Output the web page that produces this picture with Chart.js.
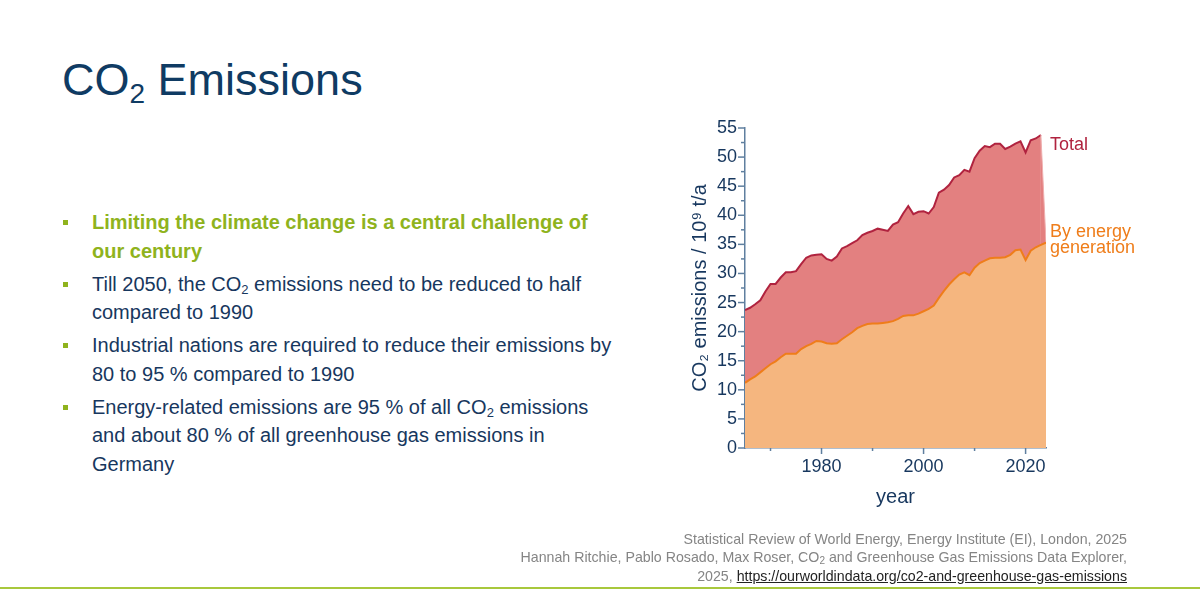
<!DOCTYPE html>
<html>
<head>
<meta charset="utf-8">
<script src="https://cdn.jsdelivr.net/npm/chart.js@4.4.1/dist/chart.umd.min.js"></script>
<style>
  html, body { margin: 0; padding: 0; background: #fff; }
  body { width: 1200px; height: 600px; position: relative; overflow: hidden;
         font-family: Arial, "Liberation Sans", sans-serif; color: #17375E; }
  #title { position: absolute; left: 62px; top: 57px; font-size: 45px; line-height: 45px; color: #0F3B63; white-space: nowrap; }
  #title .sub { font-size: 28px; position: relative; top: 8px; }
  #bullets { position: absolute; left: 92px; top: 208px; font-size: 20px; line-height: 28.5px; white-space: nowrap; }
  #bullets p { margin: 0 0 4.5px 0; position: relative; }
  #bullets p::before { content: ""; position: absolute; left: -29px; top: 12px; width: 5px; height: 5px; background: #8FB31D; }
  #bullets p.lead { color: #8FB31D; font-weight: bold; }
  #bullets sub { font-size: 13px; vertical-align: -3px; line-height: 0; }
  #chartBox { position: absolute; left: 620px; top: 100px; width: 580px; height: 440px; }
  .seriesLabel { position: absolute; left: 1050px; font-size: 18px; white-space: nowrap; }
  #lblTotal { top: 135px; line-height: 18px; color: #B0233F; }
  #lblEnergy { top: 223px; line-height: 16px; color: #EF7D1A; }
  #source { position: absolute; right: 73px; top: 530px; text-align: right; font-size: 14.2px; line-height: 18.3px; color: #858585; white-space: nowrap; }
  #source sub { font-size: 10px; vertical-align: -2px; line-height: 0; }
  #source a { color: #222; text-decoration: underline; }
  #rule { position: absolute; left: 0; top: 587px; width: 1200px; height: 2px; background: #A8C83C; }
</style>
</head>
<body>
<div id="title">CO<span class="sub">2</span> Emissions</div>

<div id="bullets">
  <p class="lead">Limiting the climate change is a central challenge of<br>our century</p>
  <p>Till 2050, the CO<sub>2</sub> emissions need to be reduced to half<br>compared to 1990</p>
  <p>Industrial nations are required to reduce their emissions by<br>80 to 95 % compared to 1990</p>
  <p>Energy-related emissions are 95 % of all CO<sub>2</sub> emissions<br>and about 80 % of all greenhouse gas emissions in<br>Germany</p>
</div>

<div id="chartBox"><canvas id="co2Chart"></canvas></div>
<div id="lblTotal" class="seriesLabel">Total</div>
<div id="lblEnergy" class="seriesLabel">By energy<br>generation</div>

<div id="source">
  Statistical Review of World Energy, Energy Institute (EI), London, 2025<br>
  Hannah Ritchie, Pablo Rosado, Max Roser, CO<sub>2</sub> and Greenhouse Gas Emissions Data Explorer,<br>
  2025, <a href="#">https://ourworldindata.org/co2-and-greenhouse-gas-emissions</a>
</div>
<div id="rule"></div>

<script>
    const years = [
        1965, 1966, 1967, 1968, 1969, 1970, 1971, 1972, 1973, 1974,
        1975, 1976, 1977, 1978, 1979, 1980, 1981, 1982, 1983, 1984,
        1985, 1986, 1987, 1988, 1989, 1990, 1991, 1992, 1993, 1994,
        1995, 1996, 1997, 1998, 1999, 2000, 2001, 2002, 2003, 2004,
        2005, 2006, 2007, 2008, 2009, 2010, 2011, 2012, 2013, 2014,
        2015, 2016, 2017, 2018, 2019, 2020, 2021, 2022, 2023, 2024
    ];

    // CO2 from energy generation, 10^9 t/a
    const energyEmissions = [
        11.2, 11.8, 12.3, 13.0, 13.7, 14.4, 14.9, 15.6, 16.2, 16.2,
        16.2, 17.0, 17.5, 17.9, 18.4, 18.3, 18.0, 17.9, 18.0, 18.7,
        19.3, 19.9, 20.6, 21.0, 21.3, 21.4, 21.4, 21.5, 21.6, 21.8,
        22.2, 22.7, 22.8, 22.8, 23.1, 23.5, 23.9, 24.5, 25.8, 27.0,
        28.1, 29.0, 29.8, 30.2, 29.7, 31.0, 31.8, 32.2, 32.6, 32.7,
        32.7, 32.8, 33.2, 34.0, 34.1, 32.3, 33.9, 34.5, 34.9, 35.3
    ];

    // total CO2, 10^9 t/a (no 2024 value in the source: the area closes onto the energy curve)
    const totalEmissions = [
        23.7, 24.1, 24.7, 25.4, 26.9, 28.2, 28.2, 29.3, 30.2, 30.2,
        30.4, 31.6, 32.7, 33.1, 33.2, 33.3, 32.5, 32.2, 32.9, 34.3,
        34.7, 35.2, 35.7, 36.6, 37.0, 37.3, 37.7, 37.5, 37.3, 38.4,
        38.8, 40.3, 41.6, 40.2, 40.6, 40.7, 40.3, 41.4, 43.9, 44.4,
        45.2, 46.5, 46.9, 47.8, 47.5, 49.8, 51.1, 51.9, 51.7, 52.3,
        52.3, 51.4, 51.8, 52.3, 52.7, 50.8, 52.9, 53.2, 53.8, 35.3
    ];

    const xLabelTicks = [1980, 2000, 2020];
    const xMinorTicks = [1970, 1990, 2010];
    const yMinorTicks = [2.5, 7.5, 12.5, 17.5, 22.5, 27.5, 32.5, 37.5, 42.5, 47.5, 52.5];

    const TEXT_COLOR = "#17375E";
    const AXIS_COLOR = "#5F7F9F";

    const toPoints = vals => years.map((yr, i) => ({ x: yr, y: vals[i] }));

    // small outward tick marks, long at labelled values, short in between
    const tickMarks = {
        id: "tickMarks",
        afterDraw(chart) {
            const { ctx, scales: { x, y } } = chart;
            ctx.save();
            ctx.strokeStyle = AXIS_COLOR;
            ctx.lineWidth = 1.5;
            const mark = (x1, y1, x2, y2) => {
                ctx.beginPath();
                ctx.moveTo(x1, y1);
                ctx.lineTo(x2, y2);
                ctx.stroke();
            };
            xLabelTicks.forEach(v => {
                const px = x.getPixelForValue(v);
                mark(px, x.top, px, x.top + 6);
            });
            xMinorTicks.forEach(v => {
                const px = x.getPixelForValue(v);
                mark(px, x.top, px, x.top + 3);
            });
            y.ticks.forEach(t => {
                const py = y.getPixelForValue(t.value);
                mark(y.right - 7, py, y.right, py);
            });
            yMinorTicks.forEach(v => {
                const py = y.getPixelForValue(v);
                mark(y.right - 4, py, y.right, py);
            });
            ctx.restore();
        }
    };

    const lastIdx = years.length - 1;

    new Chart(document.getElementById("co2Chart"), {
        type: "line",
        data: {
            datasets: [
                {
                    label: "By energy generation",
                    data: toPoints(energyEmissions),
                    borderColor: "#EF7D1A",
                    backgroundColor: "#F5B67F",
                    borderWidth: 2,
                    pointRadius: 0,
                    fill: "origin",
                    tension: 0
                },
                {
                    label: "Total",
                    data: toPoints(totalEmissions),
                    borderColor: "#B0233F",
                    backgroundColor: "#E38080",
                    borderWidth: 2,
                    pointRadius: 0,
                    fill: "-1",
                    tension: 0,
                    segment: {
                        borderColor: c => c.p1DataIndex === lastIdx ? "#EFB0B0" : undefined,
                        borderWidth: c => c.p1DataIndex === lastIdx ? 1 : undefined
                    }
                }
            ]
        },
        options: {
            responsive: true,
            maintainAspectRatio: false,
            animation: false,
            layout: { padding: { left: 0, top: 28, right: 154, bottom: 0 } },
            plugins: {
                legend: { display: false },
                tooltip: { enabled: false }
            },
            scales: {
                x: {
                    type: "linear",
                    min: 1965,
                    max: 2024,
                    afterBuildTicks: scale => {
                        scale.ticks = xLabelTicks.map(v => ({ value: v }));
                    },
                    afterFit: scale => { scale.height = 92; },
                    grid: { display: false, drawTicks: false },
                    border: { display: true, color: AXIS_COLOR, width: 1.5 },
                    ticks: {
                        padding: 8,
                        maxRotation: 0,
                        autoSkip: false,
                        color: TEXT_COLOR,
                        font: { family: "Arial, 'Liberation Sans', sans-serif", size: 18 },
                        callback: v => String(v)
                    },
                    title: {
                        display: true,
                        text: "year",
                        color: TEXT_COLOR,
                        padding: { top: 0, bottom: 31 },
                        font: { family: "Arial, 'Liberation Sans', sans-serif", size: 20 }
                    }
                },
                y: {
                    min: 0,
                    max: 55,
                    afterFit: scale => { scale.width = 125; },
                    grid: { display: false, drawTicks: false },
                    border: { display: true, color: AXIS_COLOR, width: 1.5 },
                    ticks: {
                        stepSize: 5,
                        padding: 8,
                        color: TEXT_COLOR,
                        font: { family: "Arial, 'Liberation Sans', sans-serif", size: 18 }
                    },
                    title: {
                        display: true,
                        text: "CO\u2082 emissions / 10\u2079 t/a",
                        color: TEXT_COLOR,
                        padding: { top: 68, bottom: 0 },
                        font: { family: "Arial, 'Liberation Sans', sans-serif", size: 20 }
                    }
                }
            }
        },
        plugins: [tickMarks]
    });
</script>
</body>
</html>
